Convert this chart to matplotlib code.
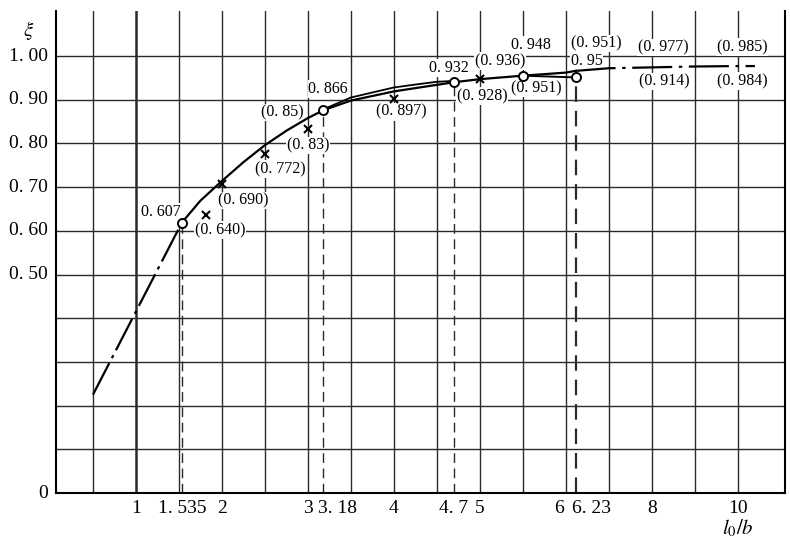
import numpy as np
import matplotlib.pyplot as plt

plt.rcParams['font.family'] = ['Liberation Serif', 'DejaVu Serif']
plt.rcParams['mathtext.fontset'] = 'stix'

# ---- data ----
# main curve (solid)
curve_x = [1.535, 1.75, 2.0, 2.25, 2.5, 2.75, 3.0, 3.18, 3.5, 4.0, 4.3, 4.7,
           5.0, 5.5, 6.0, 6.23]
curve_y = [0.619, 0.669, 0.714, 0.757, 0.796, 0.829, 0.858, 0.876, 0.898,
           0.919, 0.928, 0.940, 0.947, 0.955, 0.962, 0.966]
# second (upper) branch between 3.18 and 4.7
upper_x = [3.18, 3.5, 4.0, 4.3, 4.5, 4.7]
upper_y = [0.878, 0.905, 0.928, 0.936, 0.941, 0.943]
# short branch to the last measured point
tail_x = [5.5, 6.23]
tail_y = [0.955, 0.951]
# extrapolated parts (dash-dot)
left_x = [0.5, 1.535]
left_y = [0.225, 0.619]
right_x = [6.23, 7.0, 8.0, 9.0, 10.0, 10.4]
right_y = [0.966, 0.972, 0.974, 0.976, 0.977, 0.977]

# measured points (circles) and crosses
circle_x = [1.535, 3.18, 4.7, 5.5, 6.23]
circle_y = [0.619, 0.876, 0.940, 0.955, 0.951]
circle_labels = ['0. 607', '0. 866', '0. 932', '0. 948', '0. 95']
cross_x = [1.81, 2.0, 2.5, 3.0, 4.0, 5.0]
cross_y = [0.636, 0.708, 0.776, 0.834, 0.902, 0.947]
cross_labels = ['(0. 640)', '(0. 690)', '(0. 772)', '(0. 83)', '(0. 897)',
                '(0. 928)']
# other bracketed values
other_labels = ['(0. 85)', '(0. 936)', '(0. 951)', '(0. 951)',
                '(0. 977)', '(0. 914)', '(0. 985)', '(0. 984)']
other_x = [3.0, 5.0, 5.5, 6.23, 8.0, 8.0, 10.0, 10.0]
other_y = [0.834, 0.947, 0.955, 0.951, 0.974, 0.974, 0.977, 0.977]

# axis
x_ticks = [1, 1.535, 2, 3, 3.18, 4, 4.7, 5, 6, 6.23, 8, 10]
x_tick_labels = ['1', '1. 535', '2', '3', '3. 18', '4', '4. 7', '5', '6',
                 '6. 23', '8', '10']
y_ticks = [0, 0.5, 0.6, 0.7, 0.8, 0.9, 1.0]
y_tick_labels = ['0', '0. 50', '0. 60', '0. 70', '0. 80', '0. 90', '1. 00']
v_grid = [0.5, 1, 1.5, 2, 2.5, 3, 3.5, 4, 4.5, 5, 5.5, 6, 7, 8, 9, 10]
h_grid = [0.1, 0.2, 0.3, 0.4, 0.5, 0.6, 0.7, 0.8, 0.9, 1.0]
dash_x = [1.535, 3.18, 4.7, 6.23]
dash_top = [0.619, 0.876, 0.940, 0.951]


def fwd(x):
    x = np.asarray(x, dtype=float)
    return np.where(x <= 6, x, 6 + (x - 6) / 2)


def inv(x):
    x = np.asarray(x, dtype=float)
    return np.where(x <= 6, x, 6 + (x - 6) * 2)


fig = plt.figure(figsize=(7.9, 5.51), dpi=100)
ax = fig.add_axes([56 / 790, 58 / 551, 729 / 790, 482 / 551])
ax.set_xscale('function', functions=(fwd, inv))
ax.set_xlim(0.07, 11.1)
ax.set_ylim(0, 1.103)

gc = '#2a2a2a'
for v in v_grid:
    ax.axvline(v, color=gc, lw=1.8 if v == 1 else 1.0, zorder=1)
for h in h_grid:
    ax.axhline(h, color=gc, lw=1.0, zorder=1)
for x, top in zip(dash_x, dash_top):
    ax.plot([x, x], [0, top], color=gc, lw=1.6 if x > 6 else 1.0,
            dashes=(7, 4), zorder=2)

ax.plot(curve_x, curve_y, color='black', lw=1.6, zorder=4)
ax.plot(upper_x, upper_y, color='black', lw=1.3, zorder=4)
ax.plot(tail_x, tail_y, color='black', lw=1.4, zorder=4)
ax.plot(left_x, left_y, color='black', lw=1.6, dashes=(16, 2.5, 1.5, 2.5),
        zorder=4)
ax.plot(right_x, right_y, color='black', lw=1.6, dashes=(18, 3, 1.5, 3),
        zorder=4)

ax.plot(circle_x, circle_y, 'o', ms=6.5, mfc='white', mec='black', mew=1.4,
        zorder=6)
ax.plot(cross_x, cross_y, 'x', ms=6, color='black', mew=1.5, zorder=6)


def note(text, x, y, dx, dy, ha='left'):
    ax.annotate(text, (x, y), xytext=(dx, dy), textcoords='offset pixels',
                ha=ha, va='center', fontsize=11.5, zorder=3,
                bbox=dict(fc='white', ec='none', pad=0.6))


circle_offsets = [(-1, 11, 'right'), (-15, 21, 'left'), (15, 14, 'right'),
                  (-12, 31, 'left'), (-5, 16, 'left')]
for t, x, y, (dx, dy, ha) in zip(circle_labels, circle_x, circle_y,
                                 circle_offsets):
    note(t, x, y, dx, dy, ha)

cross_offsets = [(-11, -15), (-4, -17), (-10, -15), (-21, -17), (-18, -13),
                 (-23, -17)]
for t, x, y, (dx, dy) in zip(cross_labels, cross_x, cross_y, cross_offsets):
    note(t, x, y, dx, dy)

other_offsets = [(-4, 16, 'right'), (-5, 18, 'left'), (-12, -13, 'left'),
                 (-5, 34, 'left'), (-14, 20, 'left'), (-13, -14, 'left'),
                 (-21, 19, 'left'), (-21, -15, 'left')]
for t, x, y, (dx, dy, ha) in zip(other_labels, other_x, other_y,
                                 other_offsets):
    note(t, x, y, dx, dy, ha)

# tick labels
ax.set_xticks([])
ax.set_yticks([])
tick_shift = {'3. 18': (-5, 'left'), '6. 23': (-4, 'left'),
              '6': (-2, 'right')}
for x, lab in zip(x_ticks, x_tick_labels):
    dx, ha = tick_shift.get(lab, (0, 'center'))
    ax.annotate(lab, (x, 0), xycoords=('data', 'axes fraction'),
                xytext=(dx, -7), textcoords='offset pixels',
                ha=ha, va='top', fontsize=14)
for y, lab in zip(y_ticks, y_tick_labels):
    ax.annotate(lab, (0, y), xycoords=('axes fraction', 'data'),
                xytext=(-8, 0), textcoords='offset pixels',
                ha='right', va='center', fontsize=14)

for s in ['left', 'bottom', 'right']:
    ax.spines[s].set_linewidth(1.5)
    ax.spines[s].set_color('black')
ax.spines['top'].set_visible(False)

fig.text(29 / 790, 1 - 30 / 551, r'$\xi$', fontsize=15, ha='center',
         va='center')
fig.text(738 / 790, 1 - 528 / 551, r'$l_0/b$', fontsize=15, ha='center',
         va='center')

fig.savefig('out.png', dpi=100)
